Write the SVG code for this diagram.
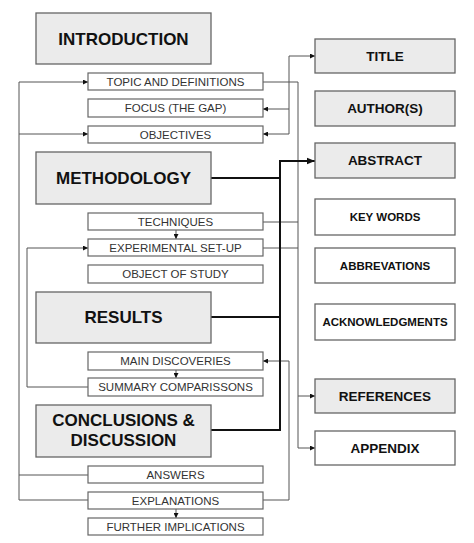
<svg xmlns="http://www.w3.org/2000/svg" width="474" height="543" viewBox="0 0 474 543">
<defs>
<marker id="ah" viewBox="0 0 10 10" refX="10" refY="5" markerWidth="5" markerHeight="5" markerUnits="userSpaceOnUse" orient="auto"><path d="M0,0 L10,5 L0,10 z" fill="#111"/></marker>
<marker id="ahb" viewBox="0 0 10 10" refX="10" refY="5" markerWidth="8" markerHeight="8" markerUnits="userSpaceOnUse" orient="auto"><path d="M0,1 L10,5 L0,9 z" fill="#111"/></marker>
<style>
.big{fill:#ebebeb;stroke:#666;stroke-width:1.3}
.sm{fill:#fff;stroke:#666;stroke-width:1.2}
.g{fill:#ebebeb;stroke:#666;stroke-width:1.3}
.w{fill:#fff;stroke:#666;stroke-width:1.3}
.tb{font-family:"Liberation Sans",Arial,sans-serif;font-weight:bold;font-size:17px;fill:#111;text-anchor:middle}
.ts{font-family:"Liberation Sans",Arial,sans-serif;font-size:11.5px;fill:#333;text-anchor:middle}
.tg{font-family:"Liberation Sans",Arial,sans-serif;font-weight:bold;font-size:13.5px;fill:#111;text-anchor:middle}
.tw{font-family:"Liberation Sans",Arial,sans-serif;font-weight:bold;font-size:11.5px;fill:#111;text-anchor:middle}
.c{fill:none;stroke:#555;stroke-width:1}
.k{fill:none;stroke:#111;stroke-width:2}
</style>
</defs>
<g id="connectors">
<path class="c" d="M88,500 H19 V82 H88" marker-end="url(#ah)"/>
<path class="c" d="M19,134 H88" marker-end="url(#ah)"/>
<path class="c" d="M19,475 H88"/>
<path class="c" d="M263,82 H298 V396 H315" marker-end="url(#ah)"/>
<path class="c" d="M298,396 V448 H315" marker-end="url(#ah)"/>
<path class="c" d="M263,222 H298"/>
<path class="c" d="M263,248 H298"/>
<path class="c" d="M289,109 V56 H315" marker-end="url(#ah)"/>
<path class="c" d="M289,109 H263" marker-end="url(#ah)"/>
<path class="c" d="M289,109 V134 H263" marker-end="url(#ah)"/>
<path class="c" d="M263,500 H289 V361 H263" marker-end="url(#ah)"/>
<path class="c" d="M88,387 H27 V248 H88" marker-end="url(#ah)"/>
<path class="c" d="M176,230 V239" marker-end="url(#ah)"/>
<path class="c" d="M176,370 V378" marker-end="url(#ah)"/>
<path class="c" d="M176,509 V518" marker-end="url(#ah)"/>
<path class="k" d="M211,178 H280"/>
<path class="k" d="M211,317 H280"/>
<path class="k" d="M211,430 H280 V161 H315" marker-end="url(#ahb)"/>
</g>
<g id="introduction"><rect class="big" x="36" y="13" width="175" height="51"/><text class="tb" x="123.5" y="45">INTRODUCTION</text></g>
<g id="topic"><rect class="sm" x="88" y="73" width="175" height="17"/><text class="ts" x="175.5" y="86">TOPIC AND DEFINITIONS</text></g>
<g id="focus"><rect class="sm" x="88" y="99" width="175" height="18"/><text class="ts" x="175.5" y="112">FOCUS (THE GAP)</text></g>
<g id="objectives"><rect class="sm" x="88" y="126" width="175" height="17"/><text class="ts" x="175.5" y="139">OBJECTIVES</text></g>
<g id="methodology"><rect class="big" x="36" y="152" width="175" height="52"/><text class="tb" x="123.5" y="184">METHODOLOGY</text></g>
<g id="techniques"><rect class="sm" x="88" y="213" width="175" height="17"/><text class="ts" x="175.5" y="226">TECHNIQUES</text></g>
<g id="setup"><rect class="sm" x="88" y="239" width="175" height="17"/><text class="ts" x="175.5" y="252">EXPERIMENTAL SET-UP</text></g>
<g id="object"><rect class="sm" x="88" y="265" width="175" height="18"/><text class="ts" x="175.5" y="278">OBJECT OF STUDY</text></g>
<g id="results"><rect class="big" x="36" y="292" width="175" height="51"/><text class="tb" x="123.5" y="323">RESULTS</text></g>
<g id="discoveries"><rect class="sm" x="88" y="352" width="175" height="18"/><text class="ts" x="175.5" y="365">MAIN DISCOVERIES</text></g>
<g id="summary"><rect class="sm" x="88" y="378" width="175" height="18"/><text class="ts" x="175.5" y="391">SUMMARY COMPARISSONS</text></g>
<g id="conclusions"><rect class="big" x="36" y="405" width="175" height="52"/><text class="tb" x="123.5" y="426">CONCLUSIONS &amp;</text><text class="tb" x="123.5" y="446">DISCUSSION</text></g>
<g id="answers"><rect class="sm" x="88" y="466" width="175" height="17"/><text class="ts" x="175.5" y="479">ANSWERS</text></g>
<g id="explanations"><rect class="sm" x="88" y="492" width="175" height="17"/><text class="ts" x="175.5" y="505">EXPLANATIONS</text></g>
<g id="further"><rect class="sm" x="88" y="518" width="175" height="17"/><text class="ts" x="175.5" y="531">FURTHER IMPLICATIONS</text></g>
<g id="title"><rect class="g" x="315" y="39" width="140" height="34"/><text class="tg" x="385" y="61">TITLE</text></g>
<g id="authors"><rect class="g" x="315" y="91" width="140" height="35"/><text class="tg" x="385" y="113">AUTHOR(S)</text></g>
<g id="abstract"><rect class="g" x="315" y="143" width="140" height="35"/><text class="tg" x="385" y="165">ABSTRACT</text></g>
<g id="keywords"><rect class="w" x="315" y="199" width="140" height="36"/><text class="tw" x="385" y="221">KEY WORDS</text></g>
<g id="abbrevations"><rect class="w" x="315" y="248" width="140" height="35"/><text class="tw" x="385" y="270">ABBREVATIONS</text></g>
<g id="acknowledgments"><rect class="w" x="315" y="304" width="140" height="36"/><text class="tw" x="385" y="326">ACKNOWLEDGMENTS</text></g>
<g id="references"><rect class="g" x="315" y="379" width="140" height="34"/><text class="tg" x="385" y="401">REFERENCES</text></g>
<g id="appendix"><rect class="w" x="315" y="431" width="140" height="34"/><text class="tg" x="385" y="453">APPENDIX</text></g>
</svg>
